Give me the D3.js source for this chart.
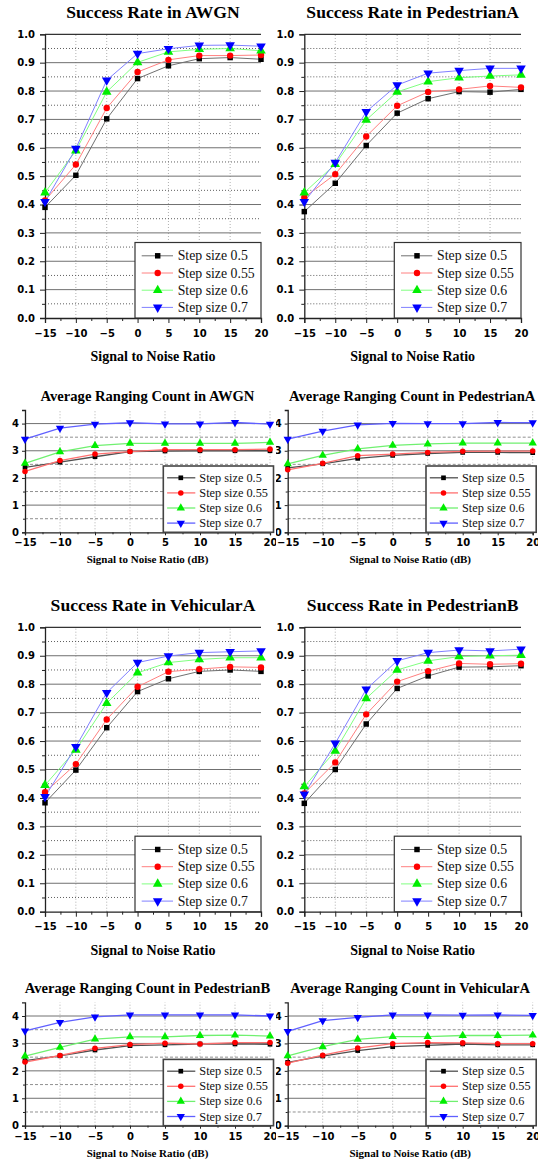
<!DOCTYPE html>
<html><head><meta charset="utf-8">
<script src="https://cdn.jsdelivr.net/npm/d3@7/dist/d3.min.js"></script>
<style>
html,body{margin:0;padding:0;background:#fff;}
svg{display:block;}
</style></head>
<body>
<script>
// ---------- DATA ----------
const snr = [-15, -10, -5, 0, 5, 10, 15, 20];
const seriesNames = ["Step size 0.5", "Step size 0.55", "Step size 0.6", "Step size 0.7"];
const successTicks = [0, 0.1, 0.2, 0.3, 0.4, 0.5, 0.6, 0.7, 0.8, 0.9, 1.0];
const rangingTicks = [0, 1, 2, 3, 4];
const snrTicks = [-15, -10, -5, 0, 5, 10, 15, 20];

// Success rate  (rows: step 0.5, 0.55, 0.6, 0.7)
const successAWGN = [
  [0.39, 0.503, 0.702, 0.844, 0.889, 0.914, 0.918, 0.912],
  [0.414, 0.541, 0.740, 0.867, 0.910, 0.925, 0.925, 0.927],
  [0.442, 0.590, 0.797, 0.901, 0.938, 0.947, 0.950, 0.942],
  [0.410, 0.597, 0.838, 0.932, 0.949, 0.961, 0.962, 0.958]
];
const successPedA = [
  [0.375, 0.475, 0.608, 0.722, 0.773, 0.798, 0.796, 0.806],
  [0.425, 0.507, 0.640, 0.748, 0.797, 0.806, 0.818, 0.813],
  [0.442, 0.542, 0.698, 0.797, 0.833, 0.847, 0.853, 0.857],
  [0.410, 0.548, 0.727, 0.821, 0.863, 0.872, 0.880, 0.880]
];
const successVehA = [
  [0.383, 0.498, 0.647, 0.774, 0.819, 0.845, 0.850, 0.845],
  [0.420, 0.519, 0.676, 0.791, 0.844, 0.853, 0.861, 0.859],
  [0.445, 0.569, 0.733, 0.840, 0.876, 0.887, 0.893, 0.893],
  [0.404, 0.580, 0.770, 0.876, 0.899, 0.911, 0.914, 0.917]
];
const successPedB = [
  [0.381, 0.500, 0.660, 0.785, 0.829, 0.860, 0.861, 0.865],
  [0.416, 0.525, 0.694, 0.809, 0.846, 0.873, 0.870, 0.872],
  [0.440, 0.565, 0.750, 0.850, 0.882, 0.897, 0.900, 0.902],
  [0.413, 0.592, 0.782, 0.882, 0.911, 0.920, 0.917, 0.923]
];
// Average ranging count
const rangingAWGN = [
  [2.39, 2.58, 2.78, 2.97, 2.99, 3.00, 3.00, 3.00],
  [2.24, 2.64, 2.88, 2.97, 3.04, 3.04, 3.04, 3.06],
  [2.54, 2.96, 3.19, 3.27, 3.27, 3.27, 3.27, 3.31],
  [3.43, 3.83, 3.98, 4.03, 3.99, 3.99, 4.04, 3.98]
];
const rangingPedA = [
  [2.37, 2.52, 2.72, 2.83, 2.90, 2.94, 2.94, 2.93],
  [2.30, 2.54, 2.82, 2.88, 2.94, 2.98, 2.99, 2.99],
  [2.52, 2.83, 3.07, 3.20, 3.25, 3.28, 3.28, 3.28],
  [3.43, 3.72, 3.95, 4.01, 4.00, 4.00, 4.04, 4.03]
];
const rangingPedB = [
  [2.37, 2.55, 2.76, 2.92, 2.95, 2.98, 2.98, 2.97],
  [2.32, 2.56, 2.82, 2.96, 3.01, 2.98, 3.03, 3.03],
  [2.54, 2.86, 3.16, 3.24, 3.24, 3.29, 3.30, 3.27],
  [3.46, 3.77, 3.97, 4.04, 4.04, 4.04, 4.04, 4.00]
];
const rangingVehA = [
  [2.31, 2.54, 2.74, 2.88, 2.93, 2.98, 2.95, 2.95],
  [2.28, 2.57, 2.83, 2.99, 3.03, 3.02, 2.99, 2.99],
  [2.55, 2.88, 3.15, 3.25, 3.25, 3.29, 3.29, 3.30],
  [3.44, 3.83, 3.95, 4.04, 4.04, 4.03, 4.04, 4.02]
];

// ---------- STYLE ----------
const markerColors = ["#000000", "#ff0000", "#00ee00", "#0000ff"];
const lineColorsS = ["#707070", "#ff8080", "#80ff80", "#8080ff"];
const lineColorsR = ["#505050", "#ff7070", "#70f070", "#6060ff"];
const markerTypes = [d3.symbolSquare, d3.symbolCircle, d3.symbolTriangle, "down"];

const W = 543, H = 1161;
const svg = d3.select("body").append("svg").attr("width", W).attr("height", H);
const defs = svg.append("defs");

function marker(g, type, x, y, size, color) {
  if (type === "down") {
    g.append("path").attr("d", d3.symbol().type(d3.symbolTriangle).size(size)())
      .attr("transform", `translate(${x},${y}) rotate(180)`).attr("fill", color);
  } else {
    g.append("path").attr("d", d3.symbol().type(type).size(size)())
      .attr("transform", `translate(${x},${y})`).attr("fill", color);
  }
}

function drawPanel(cfg) {
  const g = svg.append("g");
  if (cfg.clip) {
    const id = "clip" + cfg.id;
    defs.append("clipPath").attr("id", id).append("rect")
      .attr("x", cfg.clip[0]).attr("y", cfg.yTop - 60).attr("width", cfg.clip[1] - cfg.clip[0]).attr("height", 220);
    g.attr("clip-path", `url(#${id})`);
  }
  const x = d3.scaleLinear().domain([-15, 20]).range([cfg.x0, cfg.x1]);
  const y = d3.scaleLinear().domain(cfg.yDomain).range([cfg.yBot, cfg.yTop]);
  const isS = cfg.kind === "s";

  // vertical dotted grid
  g.append("g").selectAll("line").data(snrTicks.filter(v => v > -15 && (isS ? v < 20 : true)))
    .join("line").attr("x1", d => x(d)).attr("x2", d => x(d))
    .attr("y1", cfg.yBot).attr("y2", cfg.yTop)
    .attr("stroke", "#b0b0b0").attr("stroke-width", 1).attr("stroke-dasharray", "1,2");

  // minor horizontal grid
  const minor = isS ? d3.range(0.05, 1.0, 0.1) : [0.5, 1.5, 2.5, 3.5];
  g.append("g").selectAll("line").data(minor).join("line")
    .attr("x1", cfg.x0).attr("x2", cfg.x1).attr("y1", d => y(d)).attr("y2", d => y(d))
    .attr("stroke", isS ? "#606060" : "#909090").attr("stroke-width", 1)
    .attr("stroke-dasharray", isS ? "1,2" : "3,2");

  // major horizontal grid
  const major = isS ? successTicks.filter(v => v > 0) : rangingTicks.filter(v => v > 0);
  g.append("g").selectAll("line").data(major).join("line")
    .attr("x1", cfg.x0).attr("x2", cfg.x1).attr("y1", d => y(d)).attr("y2", d => y(d))
    .attr("stroke", d => (isS && d === 1.0) ? "#333" : "#707070").attr("stroke-width", d => (isS && d === 1.0) ? 1.3 : 1);

  // axes
  const tickFont = "bold 10px 'DejaVu Sans', Verdana, sans-serif";
  const xMinor = d3.range(-12.5, 20, 5);
  const yMinor = minor;
  g.append("g").attr("transform", `translate(0,${cfg.yBot})`)
    .call(d3.axisBottom(x).tickValues(snrTicks).tickSize(isS ? 5 : 3).tickPadding(isS ? 6.5 : 4).tickFormat(d3.format("d")));
  g.append("g").attr("transform", `translate(0,${cfg.yBot})`)
    .call(d3.axisBottom(x).tickValues(xMinor).tickSize(isS ? 3 : 2).tickFormat(""))
    .call(a => a.select(".domain").remove());
  g.append("g").attr("transform", `translate(${cfg.x0},0)`)
    .call(d3.axisLeft(y).tickValues(isS ? successTicks : rangingTicks).tickSize(isS ? 5 : 3).tickPadding(isS ? 5 : 3)
      .tickFormat(isS ? d3.format(".1f") : d3.format("d")));
  g.append("g").attr("transform", `translate(${cfg.x0},0)`)
    .call(d3.axisLeft(y).tickValues(yMinor).tickSize(isS ? 3 : 2).tickFormat(""))
    .call(a => a.select(".domain").remove());
  g.selectAll(".tick text").style("font", tickFont).attr("fill", "#000");
  g.selectAll(".domain").attr("stroke", "#222").attr("stroke-width", 1.3);
  g.selectAll(".tick line").attr("stroke", "#222");

  // lines + markers
  const data = cfg.data;
  const lineColors = isS ? lineColorsS : lineColorsR;
  const line = d3.line().x((d, i) => x(snr[i])).y(d => y(d));
  data.forEach((s, k) => {
    g.append("path").attr("d", line(s)).attr("fill", "none")
      .attr("stroke", lineColors[k]).attr("stroke-width", isS ? 1 : 1.3);
  });
  const sizes = isS ? [30, 32, 40, 40] : [22, 24, 30, 30];
  data.forEach((s, k) => {
    s.forEach((v, i) => marker(g, markerTypes[k], x(snr[i]), y(v), sizes[k], markerColors[k]));
  });

  // title
  g.append("text").attr("x", (cfg.x0 + cfg.x1) / 2 + (cfg.titleDx || 0)).attr("y", cfg.yTop + (isS ? -16.5 : -9.5))
    .attr("text-anchor", "middle")
    .style("font", `bold ${isS ? 17.6 : 14.6}px 'Liberation Serif', 'Times New Roman', serif`)
    .text(cfg.title);

  // x title
  g.append("text").attr("x", (cfg.x0 + cfg.x1) / 2).attr("y", cfg.yBot + (isS ? 43 : 31))
    .attr("text-anchor", "middle")
    .style("font", `bold ${isS ? 14 : 11}px 'Liberation Serif', 'Times New Roman', serif`)
    .text(isS ? "Signal to Noise Ratio" : "Signal to Noise Ratio (dB)");

  // legend
  let lx, ly, lw, lh, rowY, seg, mx, tx, fs;
  if (isS) {
    lx = cfg.x0 + 90; lw = cfg.x1 - lx; ly = cfg.yBot - 75.5; lh = 75.5;
    rowY = i => ly + 13.3 + 17.2 * i; seg = [6.7, 38]; mx = 22.7; tx = 42.7; fs = 13.8;
  } else {
    lx = cfg.x0 + 138.3; lw = cfg.x1 + 3.5 - lx; ly = cfg.yBot - 66.3; lh = 66.3;
    rowY = i => ly + 11.8 + 15.1 * i; seg = [3.8, 32]; mx = 17.5; tx = 36; fs = 12.3;
  }
  const lg = g.append("g");
  lg.append("rect").attr("x", lx).attr("y", ly).attr("width", lw).attr("height", lh)
    .attr("fill", "#fff").attr("stroke", isS ? "#333" : "#444").attr("stroke-width", isS ? 1.2 : 1.6);
  seriesNames.forEach((name, i) => {
    const yy = rowY(i);
    lg.append("line").attr("x1", lx + seg[0]).attr("x2", lx + seg[1]).attr("y1", yy).attr("y2", yy)
      .attr("stroke", lineColors[i]).attr("stroke-width", isS ? 1 : 1.3);
    marker(lg, markerTypes[i], lx + mx, yy, sizes[i], markerColors[i]);
    lg.append("text").attr("x", lx + tx).attr("y", yy + fs * 0.33)
      .style("font", `${fs}px 'Liberation Serif', 'Times New Roman', serif`).attr("fill", "#111")
      .text(name);
  });
}

// ---------- PANELS ----------
drawPanel({ id: 1, kind: "s", title: "Success Rate in AWGN", data: successAWGN,
  x0: 45, x1: 261, yTop: 34.3, yBot: 318, yDomain: [0, 1] });
drawPanel({ id: 2, kind: "s", title: "Success Rate in PedestrianA", data: successPedA,
  x0: 304.3, x1: 521, yTop: 34.3, yBot: 318, yDomain: [0, 1] });
drawPanel({ id: 5, kind: "r", title: "Average Ranging Count in AWGN", data: rangingAWGN,
  x0: 25, x1: 270, yTop: 410, yBot: 532.3, yDomain: [0, 4.5], clip: [0, 276] });
drawPanel({ id: 6, kind: "r", title: "Average Ranging Count in PedestrianA", data: rangingPedA,
  x0: 287.7, x1: 532.7, yTop: 410, yBot: 532.3, yDomain: [0, 4.5], clip: [276, 538], titleDx: 2 });
drawPanel({ id: 3, kind: "s", title: "Success Rate in VehicularA", data: successVehA,
  x0: 45, x1: 261, yTop: 627.3, yBot: 911.7, yDomain: [0, 1] });
drawPanel({ id: 4, kind: "s", title: "Success Rate in PedestrianB", data: successPedB,
  x0: 304.3, x1: 521, yTop: 627.3, yBot: 911.7, yDomain: [0, 1] });
drawPanel({ id: 7, kind: "r", title: "Average Ranging Count in PedestrianB", data: rangingPedB,
  x0: 25, x1: 270, yTop: 1002.3, yBot: 1125.7, yDomain: [0, 4.5], clip: [0, 276] });
drawPanel({ id: 8, kind: "r", title: "Average Ranging Count in VehicularA", data: rangingVehA,
  x0: 287.7, x1: 532.7, yTop: 1002.3, yBot: 1125.7, yDomain: [0, 4.5], clip: [276, 538] });
</script>
</body></html>
